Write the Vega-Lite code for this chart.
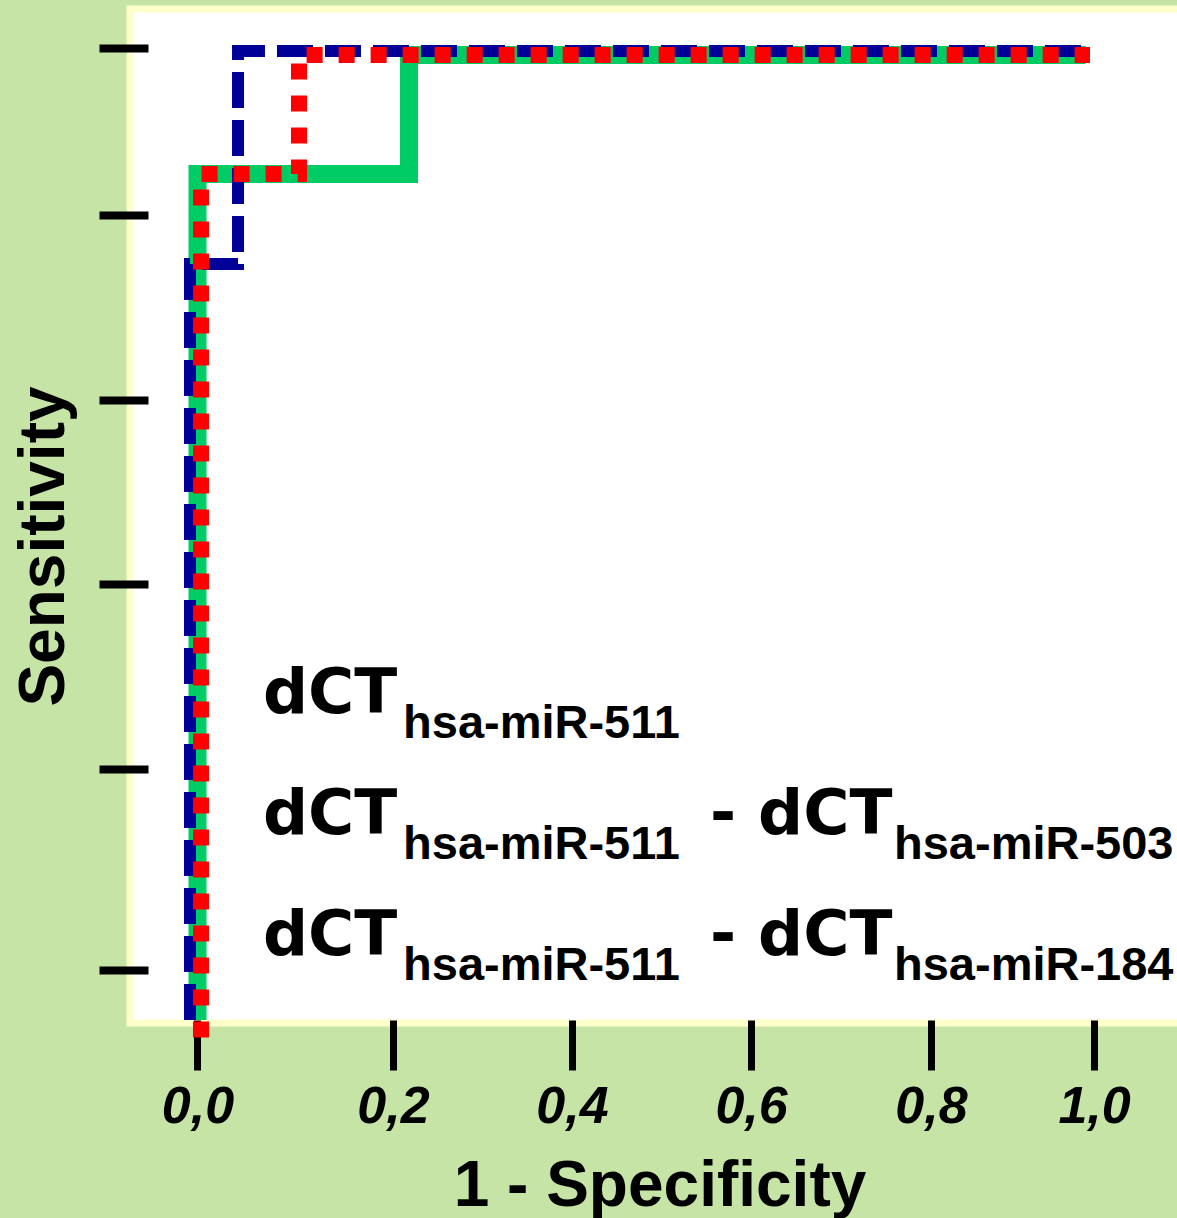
{
  "$schema": "https://vega.github.io/schema/vega-lite/v6.json",
  "width": 1057,
  "height": 1014,
  "autosize": {"type": "none"},
  "padding": {"left": 130, "top": 9, "right": -10, "bottom": 195},
  "background": "#c5e4a5",
  "config": {
    "view": {"fill": "#ffffff", "stroke": "#ffffcc", "strokeWidth": 7},
    "font": "Liberation Sans"
  },
  "datasets": {
    "green": [
      {"step": 1, "fpr": 0, "tpr": 0},
      {"step": 2, "fpr": 0, "tpr": 0.8767},
      {"step": 3, "fpr": 0.237, "tpr": 0.8767},
      {"step": 4, "fpr": 0.237, "tpr": 1.0},
      {"step": 5, "fpr": 0.995, "tpr": 1.0}
    ],
    "blue": [
      {"step": 1, "fpr": -0.0084, "tpr": 0},
      {"step": 2, "fpr": -0.0084, "tpr": 0.7834},
      {"step": 3, "fpr": 0.0454, "tpr": 0.7834},
      {"step": 4, "fpr": 0.0454, "tpr": 1.0042},
      {"step": 5, "fpr": 1.002, "tpr": 1.0042}
    ],
    "red": [
      {"step": 1, "fpr": 0.0039, "tpr": -0.018},
      {"step": 2, "fpr": 0.0039, "tpr": 0.8767},
      {"step": 3, "fpr": 0.1137, "tpr": 0.8767},
      {"step": 4, "fpr": 0.1137, "tpr": 1.0},
      {"step": 5, "fpr": 1.0, "tpr": 1.0}
    ],
    "legend": [
      {"row": 1, "main": "dCT", "sub": "hsa-miR-511", "main2": "", "sub2": ""},
      {"row": 2, "main": "dCT", "sub": "hsa-miR-511", "main2": "- dCT", "sub2": "hsa-miR-503"},
      {"row": 3, "main": "dCT", "sub": "hsa-miR-511", "main2": "- dCT", "sub2": "hsa-miR-184"}
    ]
  },
  "layer": [
    {
      "layer": [
        {
          "data": {"name": "green"},
          "mark": {"type": "line", "color": "#00cc66", "strokeWidth": 18, "strokeCap": "butt", "strokeJoin": "miter"},
          "encoding": {
            "x": {
              "field": "fpr", "type": "quantitative",
              "scale": {"domain": [-0.07563, 1.10868], "nice": false, "zero": false},
              "axis": {
                "title": "1 - Specificity",
                "values": [0, 0.219, 0.4196, 0.6202, 0.8218, 1.0045],
                "labelExpr": "replace(format(round(datum.value*5)/5,'.1f'),'.',',')",
                "domain": false, "grid": false,
                "tickSize": 50, "tickWidth": 7, "tickColor": "#000000", "offset": -3,
                "labelFont": "Liberation Sans", "labelFontSize": 52, "labelFontWeight": "bold", "labelFontStyle": "italic",
                "labelColor": "#000000", "labelBaseline": "alphabetic", "labelPadding": 52,
                "labelFlush": false, "labelOverlap": false,
                "titleFont": "Liberation Sans", "titleFontSize": 64, "titleFontWeight": "bold", "titleColor": "#000000",
                "titleX": 529.5, "titleY": 185, "titleAlign": "center", "titleBaseline": "alphabetic"
              }
            },
            "y": {
              "field": "tpr", "type": "quantitative",
              "scale": {"domain": [-0.0031, 1.0477], "nice": false, "zero": false},
              "axis": {
                "title": "Sensitivity",
                "values": [0.0518, 0.2601, 0.4518, 0.6425, 0.8342, 1.0073],
                "labels": false, "domain": false, "grid": false,
                "tickSize": 49, "tickWidth": 8, "tickColor": "#000000", "offset": -18,
                "titleFont": "Liberation Sans", "titleFontSize": 64, "titleFontWeight": "bold", "titleColor": "#000000",
                "titleAngle": 270, "titleX": -85, "titleY": 537, "titleAlign": "center", "titleBaseline": "alphabetic"
              }
            },
            "order": {"field": "step", "type": "quantitative"}
          }
        },
        {
          "data": {"name": "blue"},
          "mark": {"type": "line", "color": "#000099", "strokeWidth": 12, "strokeDash": [36, 12], "strokeCap": "butt", "strokeJoin": "miter"},
          "encoding": {
            "x": {"field": "fpr", "type": "quantitative", "scale": {"domain": [-0.07563, 1.10868], "nice": false, "zero": false}},
            "y": {"field": "tpr", "type": "quantitative", "scale": {"domain": [-0.0031, 1.0477], "nice": false, "zero": false}},
            "order": {"field": "step", "type": "quantitative"}
          }
        },
        {
          "data": {"name": "red"},
          "mark": {"type": "line", "color": "#ff0000", "strokeWidth": 16, "strokeDash": [16, 16], "strokeCap": "butt", "strokeJoin": "miter"},
          "encoding": {
            "x": {"field": "fpr", "type": "quantitative", "scale": {"domain": [-0.07563, 1.10868], "nice": false, "zero": false}},
            "y": {"field": "tpr", "type": "quantitative", "scale": {"domain": [-0.0031, 1.0477], "nice": false, "zero": false}},
            "order": {"field": "step", "type": "quantitative"}
          }
        }
      ]
    },
    {
      "data": {"name": "legend"},
      "encoding": {
        "y": {"field": "row", "type": "quantitative", "scale": {"domain": [-4.8182, 3.562], "reverse": true, "nice": false, "zero": false}, "axis": null}
      },
      "layer": [
        {
          "mark": {"type": "text", "font": "DejaVu Sans", "fontSize": 63, "fontWeight": "bold", "align": "left", "baseline": "alphabetic", "color": "#000000"},
          "encoding": {
            "x": {"datum": 0.0734, "type": "quantitative", "scale": {"domain": [-0.07563, 1.10868], "nice": false, "zero": false}},
            "text": {"field": "main"}
          }
        },
        {
          "mark": {"type": "text", "font": "Liberation Sans", "fontSize": 47, "fontWeight": "bold", "align": "left", "baseline": "alphabetic", "dy": 25, "color": "#000000"},
          "encoding": {
            "x": {"datum": 0.2303, "type": "quantitative", "scale": {"domain": [-0.07563, 1.10868], "nice": false, "zero": false}},
            "text": {"field": "sub"}
          }
        },
        {
          "mark": {"type": "text", "font": "DejaVu Sans", "fontSize": 63, "fontWeight": "bold", "align": "left", "baseline": "alphabetic", "color": "#000000"},
          "encoding": {
            "x": {"datum": 0.5742, "type": "quantitative", "scale": {"domain": [-0.07563, 1.10868], "nice": false, "zero": false}},
            "text": {"field": "main2"}
          }
        },
        {
          "mark": {"type": "text", "font": "Liberation Sans", "fontSize": 47, "fontWeight": "bold", "align": "left", "baseline": "alphabetic", "dy": 25, "color": "#000000"},
          "encoding": {
            "x": {"datum": 0.7804, "type": "quantitative", "scale": {"domain": [-0.07563, 1.10868], "nice": false, "zero": false}},
            "text": {"field": "sub2"}
          }
        }
      ]
    }
  ],
  "resolve": {"scale": {"y": "independent"}}
}
